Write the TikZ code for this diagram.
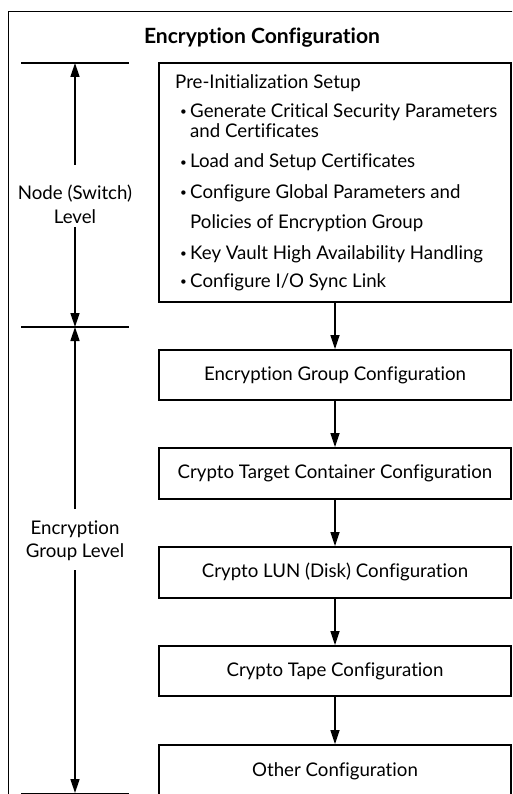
\documentclass[tikz,border=0pt]{standalone}
\usepackage{graphicx}
\usepackage{fontspec}
\setmainfont{Lato}[Ligatures=NoCommon]
\usetikzlibrary{arrows.meta}
\newlength\mylenA
\newlength\mylenB
\begin{document}
\settowidth\mylenA{\fontsize{18.8pt}{20pt}\selectfont Encryption Group Configuration}%
\pgfmathsetmacro\sxb{262/\mylenA}%
\settowidth\mylenB{\fontsize{21pt}{22pt}\selectfont\bfseries Encryption Configuration}%
\pgfmathsetmacro\sxt{236/\mylenB}%
\newcommand\tx[1]{\scalebox{\sxb}[1]{#1}}%
\newcommand\ttx[1]{\scalebox{\sxt}[1]{#1}}%
\newcommand\smbul{\raisebox{1.8pt}{\scalebox{0.62}{\textbullet}}}%
\begin{tikzpicture}[x=1pt,y=-1pt]
\tikzset{
  txt/.style={font=\fontsize{18.8pt}{24pt}\selectfont, inner sep=0pt},
  ttl/.style={font=\fontsize{21pt}{22pt}\selectfont\bfseries, inner sep=0pt},
  box/.style={draw, line width=1.8pt, minimum width=352pt, inner sep=0pt,
    text height=14pt, text depth=4pt,
    font=\fontsize{18.8pt}{24pt}\selectfont},
  arr/.style={line width=1.5pt, -{Triangle[length=14pt,width=9pt]}},
  tick/.style={line width=1.4pt},
  frm/.style={line width=0.9pt}
}
\clip (0,0) rectangle (512,794);
\fill[white] (0,0) rectangle (512,794);
% frame
\draw[frm] (8,800) -- (8,11) -- (520,11);
% title
\node[ttl, anchor=base] (title) at (262,44) {\ttx{Encryption Configuration}};
% boxes
\node[box, minimum height=239pt] (b1) at (335,182.5) {};
\node[box, minimum height=50pt] (b2) at (335,375) {\tx{Encryption Group Configuration}};
\node[box, minimum height=51pt] (b3) at (335,473.5) {\tx{Crypto Target Container Configuration}};
\node[box, minimum height=51pt] (b4) at (335,572.5) {\tx{Crypto LUN (Disk) Configuration}};
\node[box, minimum height=50pt] (b5) at (335,671) {\tx{Crypto Tape Configuration}};
\node[box, minimum height=53pt] (b6) at (335,771.5) {\tx{Other Configuration}};
% box 1 text
\node[txt, anchor=base west] (t1) at (175,88.5) {\tx{Pre-Initialization Setup}};
\node[txt, anchor=base east] (u2) at (187,117.5) {\smbul};
\node[txt, anchor=base west] (t2) at (190,117.5) {\tx{Generate Critical Security Parameters}};
\node[txt, anchor=base west] (t3) at (190,137.5) {\tx{and Certificates}};
\node[txt, anchor=base east] (u4) at (187,168) {\smbul};
\node[txt, anchor=base west] (t4) at (190,168) {\tx{Load and Setup Certificates}};
\node[txt, anchor=base east] (u5) at (187,198.5) {\smbul};
\node[txt, anchor=base west] (t5) at (190,198.5) {\tx{Configure Global Parameters and}};
\node[txt, anchor=base west] (t6) at (190,229) {\tx{Policies of Encryption Group}};
\node[txt, anchor=base east] (u7) at (187,259) {\smbul};
\node[txt, anchor=base west] (t7) at (190,259) {\tx{Key Vault High Availability Handling}};
\node[txt, anchor=base east] (u8) at (187,287) {\smbul};
\node[txt, anchor=base west] (t8) at (190,287) {\tx{Configure I/O Sync Link}};
% flow arrows
\draw[arr] (b1.south) -- (b2.north);
\draw[arr] (b2.south) -- (b3.north);
\draw[arr] (b3.south) -- (b4.north);
\draw[arr] (b4.south) -- (b5.north);
\draw[arr] (b5.south) -- (b6.north);
% ticks
\coordinate (k1) at (75,63);
\coordinate (k2) at (75,327);
\coordinate (k3) at (75,793);
\draw[tick] (21,63) -- (129,63);
\draw[tick] (21,327) -- (129,327);
\draw[tick] (21,793.5) -- (129,793.5);
% level labels
\node[txt, anchor=base] (lab1a) at (75,200) {\tx{Node (Switch)}};
\node[txt, anchor=base] (lab1b) at (75,224) {\tx{Level}};
\node[txt, anchor=base] (lab2a) at (75,534) {\tx{Encryption}};
\node[txt, anchor=base] (lab2b) at (75,557) {\tx{Group Level}};
\coordinate (l1a) at (75,165);
\coordinate (l1b) at (75,227);
\coordinate (l2a) at (75,509);
\coordinate (l2b) at (75,570);
\draw[arr] (l1a) -- (k1);
\draw[arr] (l1b) -- (k2);
\draw[arr] (l2a) -- (k2);
\draw[arr] (l2b) -- (k3);
\end{tikzpicture}
\end{document}
